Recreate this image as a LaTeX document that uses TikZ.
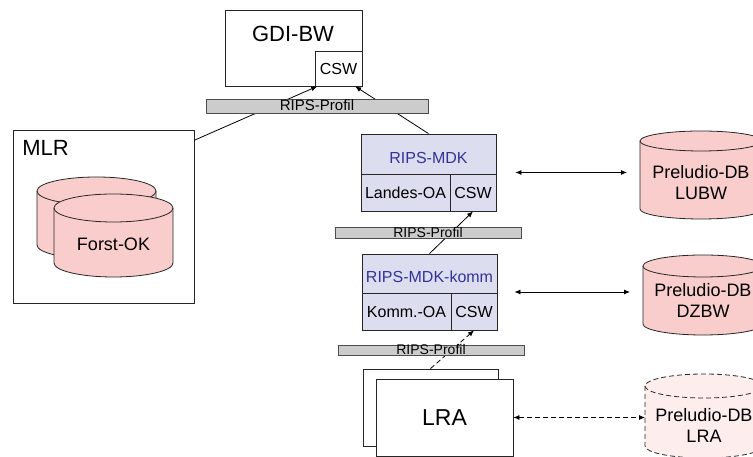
\documentclass[tikz,border=0pt]{standalone}
\usepackage{fontspec}
\setmainfont{Liberation Sans}
\usetikzlibrary{arrows.meta}
\definecolor{dbrosa}{RGB}{250,205,205}
\definecolor{dbhell}{RGB}{253,237,237}
\definecolor{mdkfarbe}{RGB}{221,221,240}
\definecolor{mdkblau}{RGB}{51,51,153}
\definecolor{profilgrau}{RGB}{204,204,204}
% #1 style, #2 x-Mitte, #3 y oben, #4 y unten, #5 rx, #6 ry, #7 Name (linker Rand)
\newcommand{\datenbank}[7]{%
  \path[#1] ({#2-#5},#3) -- ({#2-#5},#4) arc[start angle=180,end angle=360,x radius=#5,y radius=#6]
    -- ({#2+#5},#3) arc[start angle=0,end angle=180,x radius=#5,y radius=#6] -- cycle;
  \path[#1] ({#2-#5},#3) arc[start angle=180,end angle=360,x radius=#5,y radius=#6];
  \coordinate (#7) at ({#2-#5},{(#3+#4)/2});
}
\begin{document}
\begin{tikzpicture}[x=1pt,y=1pt,line width=0.8pt,
  box/.style={draw=black!85,fill=white,inner sep=1pt},
  mdkbox/.style={draw=black!85,fill=mdkfarbe,inner sep=1pt,font=\fontsize{16}{18}\selectfont},
  kopf/.style={mdkbox,text=mdkblau,text height=19pt,text depth=0pt},
  profil/.style={draw=black!70,fill=profilgrau,inner sep=0pt,text height=10pt,text depth=0pt,font=\fontsize{14}{14}\selectfont},
  dbtext/.style={align=center,inner sep=0pt,font=\fontsize{18}{21}\selectfont},
  gross/.style={inner sep=0pt,font=\fontsize{22}{24}\selectfont},
  gestrichelt/.style={dash pattern=on 5pt off 3pt},
  pfeil/.style={-{Latex[length=6pt,width=5pt]}},
  doppelpfeil/.style={{Latex[length=6pt,width=5pt]}-{Latex[length=6pt,width=5pt]}}]
\clip (0,0) rectangle (753,457);
% GDI-BW
\node[box,minimum width=137pt,minimum height=76pt] (gdi) at (293.5,409) {};
\node[gross] (gdilabel) at (293,423) {GDI-BW};
\node[box,anchor=south east,minimum width=47pt,minimum height=35pt,font=\fontsize{16}{18}\selectfont] (gdicsw) at (gdi.south east) {CSW};
% MLR
\node[box,minimum width=181pt,minimum height=173pt] (mlr) at (103.5,240.5) {};
\node[gross,anchor=west] (mlrlabel) at (22,309) {MLR};
\datenbank{fill=dbrosa,draw=black!85}{96.5}{266}{212}{59.5}{14}{forstokhinten}
\datenbank{fill=dbrosa,draw=black!85}{113.5}{249}{194}{59.5}{14}{forstokrand}
\node[dbtext] (forstok) at (113.5,213) {Forst-OK};
% RIPS-MDK
\node[mdkbox,minimum width=135pt,minimum height=77pt] (mdk) at (428.5,284.5) {};
\node[kopf,anchor=north west,minimum width=135pt,minimum height=40pt] (mdkkopf) at (mdk.north west) {RIPS-MDK};
\node[mdkbox,anchor=south west,minimum width=89pt,minimum height=37pt] (mdkoa) at (mdk.south west) {Landes-OA};
\node[mdkbox,anchor=south east,minimum width=46pt,minimum height=37pt] (mdkcsw) at (mdk.south east) {CSW};
% RIPS-MDK-komm
\node[mdkbox,minimum width=135pt,minimum height=76pt] (komm) at (429.5,165) {};
\node[kopf,anchor=north west,minimum width=135pt,minimum height=39pt] (kommkopf) at (komm.north west) {RIPS-MDK-komm};
\node[mdkbox,anchor=south west,minimum width=89pt,minimum height=37pt] (kommoa) at (komm.south west) {Komm.-OA};
\node[mdkbox,anchor=south east,minimum width=46pt,minimum height=37pt] (kommcsw) at (komm.south east) {CSW};
% LRA
\node[box,minimum width=135pt,minimum height=77pt] (lrahinten) at (430.5,49.5) {};
\node[box,minimum width=137pt,minimum height=77pt,font=\fontsize{23}{25}\selectfont] (lra) at (444.5,39.5) {LRA};
% Preludio-DB
\datenbank{fill=dbrosa,draw=black!85}{701}{316}{248}{61}{10}{lubwrand}
\node[dbtext] (lubw) at (701,274.5) {Preludio-DB\\LUBW};
\datenbank{fill=dbrosa,draw=black!85}{703}{191}{133}{60}{11}{dzbwrand}
\node[dbtext] (dzbw) at (703,157) {Preludio-DB\\DZBW};
\datenbank{fill=dbhell,draw=black!85,gestrichelt}{704}{71}{11}{59}{12}{lradbrand}
\node[dbtext] (lradb) at (704,32) {Preludio-DB\\LRA};
% Verbindungen
\draw[pfeil] (mlr.40) -- (gdicsw.220);
\draw[pfeil] (mdkkopf.north) -- (gdicsw.-47);
\draw[pfeil] (kommkopf.north) -- (mdkcsw.south);
\draw[pfeil,gestrichelt] (lrahinten.north) -- (kommcsw.south);
\draw[doppelpfeil,shorten <=19pt,shorten >=13pt] (mdk.east) -- (mdk.east -| lubwrand);
\draw[doppelpfeil,shorten <=17pt,shorten >=13pt] (komm.east) -- (komm.east -| dzbwrand);
\draw[doppelpfeil,gestrichelt] (lra.east) -- (lra.east -| lradbrand);
% RIPS-Profil
\node[profil,minimum width=222pt,minimum height=14pt,font=\fontsize{15}{15}\selectfont] (profil1) at (317,351) {RIPS-Profil};
\node[profil,minimum width=186pt,minimum height=11pt] (profil2) at (428,224.5) {RIPS-Profil};
\node[profil,minimum width=186pt,minimum height=10pt] (profil3) at (431,107) {RIPS-Profil};
\end{tikzpicture}
\end{document}
